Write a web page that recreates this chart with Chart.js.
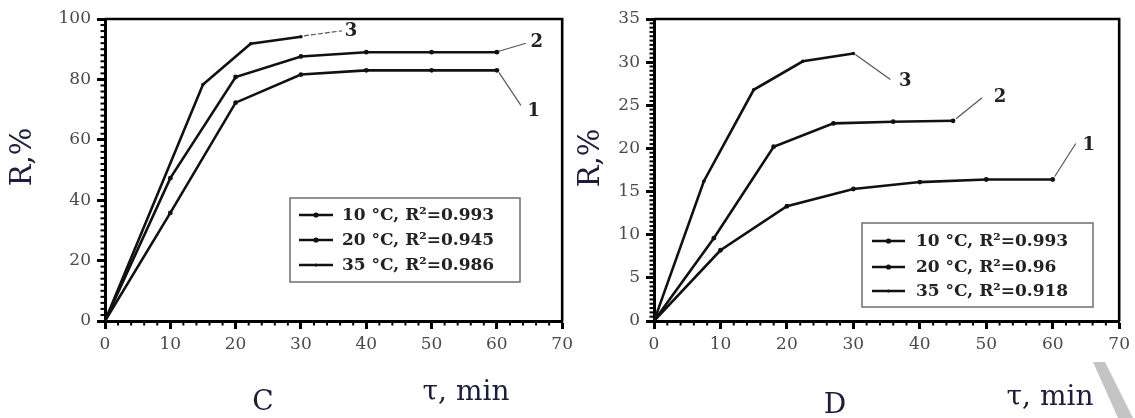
<!DOCTYPE html>
<html><head><meta charset="utf-8">
<script src="https://cdn.jsdelivr.net/npm/chart.js@4.4.0/dist/chart.umd.min.js"></script>
<style>
html,body{margin:0;padding:0;background:#fff;}
#wrap{position:relative;width:1135px;height:418px;overflow:hidden;background:#fff;}
canvas{position:absolute;top:0;}
</style></head><body>
<div id="wrap">
<canvas id="c1" width="578" height="418" style="left:0px;width:578px;height:418px"></canvas>
<canvas id="c2" width="560" height="418" style="left:575px;width:560px;height:418px"></canvas>
</div>
<script>
// ---------- Panel C ----------
const legendC = ['10 °C, R²=0.993', '20 °C, R²=0.945', '35 °C, R²=0.986'];
const curveNumsC = ['1', '2', '3'];
const timeC10 = [0, 10, 20, 30, 40, 50, 60];
const valC10  = [0, 35.8, 72.3, 81.6, 83, 83, 83];
const timeC20 = [0, 10, 20, 30, 40, 50, 60];
const valC20  = [0, 47.3, 80.8, 87.6, 89, 89, 89];
const timeC35 = [0, 15, 22.3, 30];
const valC35  = [0, 78.3, 91.8, 94.1];
const xTicksC = [0, 10, 20, 30, 40, 50, 60, 70];
const yTicksC = [0, 20, 40, 60, 80, 100];

// ---------- Panel D ----------
const legendD = ['10 °C, R²=0.993', '20 °C, R²=0.96', '35 °C, R²=0.918'];
const curveNumsD = ['1', '2', '3'];
const timeD10 = [0, 10, 20, 30, 40, 50, 60];
const valD10  = [0, 8.2, 13.3, 15.3, 16.1, 16.4, 16.4];
const timeD20 = [0, 9, 18, 27, 36, 45];
const valD20  = [0, 9.6, 20.2, 22.9, 23.1, 23.2];
const timeD35 = [0, 7.5, 15, 22.4, 30];
const valD35  = [0, 16.2, 26.8, 30.1, 31.0];
const xTicksD = [0, 10, 20, 30, 40, 50, 60, 70];
const yTicksD = [0, 5, 10, 15, 20, 25, 30, 35];

const axisTitleY = 'R,%';
const axisTitleX = 'τ, min';

function pts(xs, ys) { return xs.map((x, i) => ({x: x, y: ys[i]})); }

function makeDataset(label, xs, ys, r) {
  return {
    label: label, data: pts(xs, ys), showLine: true,
    borderColor: '#111', backgroundColor: '#111', borderWidth: 2.6,
    pointRadius: r, pointHoverRadius: r, pointBorderWidth: 0, tension: 0
  };
}

const TITLE_COLOR = '#1e1e3c';

function decorPlugin(cfg) {
  return {
    id: 'decor',
    afterDraw(chart) {
      const ctx = chart.ctx, a = chart.chartArea;
      const xs = chart.scales.x, ys = chart.scales.y;
      ctx.save();
      // frame top/right
      ctx.strokeStyle = '#000'; ctx.lineWidth = 2.6;
      ctx.beginPath();
      ctx.moveTo(a.left, a.top); ctx.lineTo(a.right, a.top); ctx.lineTo(a.right, a.bottom);
      ctx.stroke();
      // minor ticks
      ctx.lineWidth = 2;
      for (let v = xs.min; v <= xs.max + 1e-9; v += cfg.xMinor) {
        const p = xs.getPixelForValue(v);
        ctx.beginPath(); ctx.moveTo(p, a.bottom); ctx.lineTo(p, a.bottom + 4.5); ctx.stroke();
      }
      for (let v = ys.min; v <= ys.max + 1e-9; v += cfg.yMinor) {
        const p = ys.getPixelForValue(v);
        ctx.beginPath(); ctx.moveTo(a.left, p); ctx.lineTo(a.left - 4.5, p); ctx.stroke();
      }
      // axis titles
      ctx.fillStyle = TITLE_COLOR;
      ctx.font = '29px "DejaVu Serif"';
      ctx.textAlign = 'center'; ctx.textBaseline = 'middle';
      ctx.save();
      ctx.translate(cfg.yTitle[0], cfg.yTitle[1]); ctx.rotate(-Math.PI / 2);
      ctx.fillText(axisTitleY, 0, 0);
      ctx.restore();
      ctx.font = '28px "DejaVu Serif"';
      ctx.fillText(axisTitleX, cfg.xTitle[0], cfg.xTitle[1]);
      ctx.fillText(cfg.letter, cfg.letterPos[0], cfg.letterPos[1]);
      // curve numbers with leaders
      ctx.font = 'bold 18px "DejaVu Serif"';
      cfg.notes.forEach((n, i) => {
        const ds = chart.data.datasets[n.ds];
        const last = ds.data[ds.data.length - 1];
        const px = xs.getPixelForValue(last.x), py = ys.getPixelForValue(last.y);
        ctx.strokeStyle = '#555'; ctx.lineWidth = 1.2;
        ctx.setLineDash(n.dash || []);
        ctx.beginPath(); ctx.moveTo(px + n.s[0], py + n.s[1]); ctx.lineTo(px + n.e[0], py + n.e[1]); ctx.stroke();
        ctx.setLineDash([]);
        ctx.fillStyle = '#222';
        ctx.fillText(cfg.nums[n.ds], px + n.t[0], py + n.t[1]);
      });
      // legend
      const L = cfg.legend;
      ctx.fillStyle = '#fff';
      ctx.fillRect(L.x, L.y, L.w, L.h);
      ctx.strokeStyle = '#777'; ctx.lineWidth = 1.6;
      ctx.strokeRect(L.x, L.y, L.w, L.h);
      ctx.textAlign = 'left';
      ctx.font = 'bold 17px "DejaVu Serif"';
      chart.data.datasets.forEach((ds, i) => {
        const yy = L.rows[i];
        ctx.strokeStyle = '#111'; ctx.lineWidth = 2.6;
        ctx.beginPath(); ctx.moveTo(L.sx, yy); ctx.lineTo(L.sx + L.sw, yy); ctx.stroke();
        ctx.fillStyle = '#111';
        ctx.beginPath(); ctx.arc(L.sx + L.sw / 2, yy, i === 2 ? 1.6 : 2.6, 0, Math.PI * 2); ctx.fill();
        ctx.fillStyle = '#222';
        ctx.fillText(ds.label, L.tx, yy + 1);
      });
      // watermark stroke
      if (cfg.mark) {
        ctx.fillStyle = '#c4c4c4';
        ctx.beginPath();
        cfg.mark.forEach((p, i) => i ? ctx.lineTo(p[0], p[1]) : ctx.moveTo(p[0], p[1]));
        ctx.closePath(); ctx.fill();
      }
      ctx.restore();
    }
  };
}

function makeChart(id, datasets, xTicks, yTicks, yW, pad, cfg) {
  return new Chart(document.getElementById(id), {
    type: 'scatter',
    data: { datasets: datasets },
    options: {
      responsive: false, animation: false, devicePixelRatio: 1,
      layout: { padding: pad },
      plugins: { legend: { display: false }, tooltip: { enabled: false } },
      scales: {
        x: {
          type: 'linear', min: xTicks[0], max: xTicks[xTicks.length - 1],
          afterBuildTicks: s => { s.ticks = xTicks.map(v => ({value: v})); },
          afterFit: s => { s.height = 97; },
          border: { display: true, color: '#000', width: 3 },
          grid: { drawOnChartArea: false, drawTicks: true, tickLength: 8, tickWidth: 3, tickColor: '#000' },
          ticks: { color: '#4a4a4a', padding: 5, font: { family: 'DejaVu Serif', size: 17 }, maxRotation: 0, autoSkip: false }
        },
        y: {
          type: 'linear', min: yTicks[0], max: yTicks[yTicks.length - 1],
          afterBuildTicks: s => { s.ticks = yTicks.map(v => ({value: v})); },
          afterFit: s => { s.width = yW; },
          border: { display: true, color: '#000', width: 3 },
          grid: { drawOnChartArea: false, drawTicks: true, tickLength: 8, tickWidth: 3, tickColor: '#000' },
          ticks: { color: '#4a4a4a', padding: 6, font: { family: 'DejaVu Serif', size: 17 }, autoSkip: false }
        }
      }
    },
    plugins: [decorPlugin(cfg)]
  });
}

makeChart('c1', [
  makeDataset(legendC[0], timeC10, valC10, 2.4),
  makeDataset(legendC[1], timeC20, valC20, 2.4),
  makeDataset(legendC[2], timeC35, valC35, 1.8)
], xTicksC, yTicksC, 105, {left: 0, top: 19, right: 15, bottom: 0}, {
  xMinor: 2, yMinor: 2,
  yTitle: [23, 157], xTitle: [466, 393], letter: 'C', letterPos: [263, 403],
  nums: curveNumsC,
  notes: [
    {ds: 0, s: [2, 2], e: [24, 35], t: [37, 41]},
    {ds: 1, s: [2, -1], e: [29, -9], t: [40, -10]},
    {ds: 2, s: [3, -1], e: [41, -6], t: [50, -5], dash: [5, 2]}
  ],
  legend: {x: 290, y: 198, w: 230, h: 84, rows: [215, 240, 265], sx: 299, sw: 34, tx: 342}
});

makeChart('c2', [
  makeDataset(legendD[0], timeD10, valD10, 2.4),
  makeDataset(legendD[1], timeD20, valD20, 2.4),
  makeDataset(legendD[2], timeD35, valD35, 1.8)
], xTicksD, yTicksD, 79, {left: 0, top: 19, right: 12, bottom: 0}, {
  xMinor: 2, yMinor: 0.5,
  yTitle: [16, 158], xTitle: [475, 398], letter: 'D', letterPos: [260, 406],
  nums: curveNumsD,
  notes: [
    {ds: 0, s: [2, -3], e: [23, -36], t: [36, -34]},
    {ds: 1, s: [3, -2], e: [29, -23], t: [47, -23]},
    {ds: 2, s: [2, 1], e: [37, 26], t: [52, 28]}
  ],
  legend: {x: 287, y: 223, w: 231, h: 84, rows: [241, 267, 291], sx: 297, sw: 33, tx: 341},
  mark: [[518, 362], [530, 362], [558, 418], [543, 418]]
});
</script>
</body></html>
